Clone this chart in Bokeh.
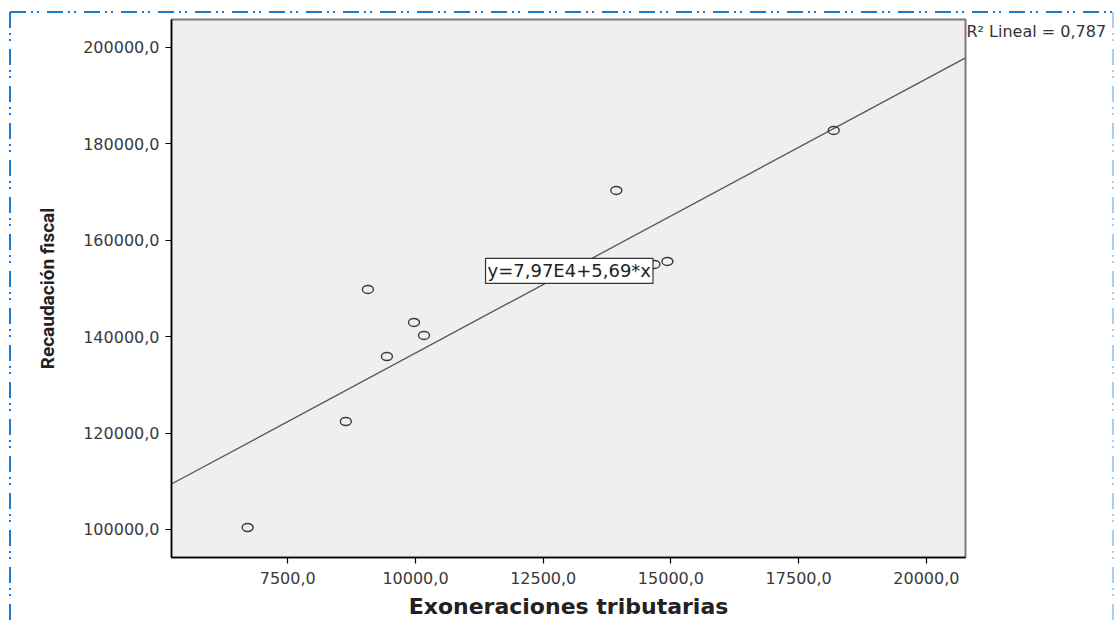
from bokeh.plotting import figure
from bokeh.models import Range1d, FixedTicker, Label, LinearAxis
from bokeh.embed import file_html
from bokeh.resources import INLINE

# Exoneraciones tributarias vs. Recaudación fiscal
exoneraciones = [6716, 8637, 9069, 9441, 9971, 10167, 13931, 14676, 14931, 18186]
recaudacion = [100415, 122407, 149793, 135892, 142946, 140249, 170332, 154979, 155602, 182780]

# fitted line reported on the chart: y = 7,97E4 + 5,69*x
intercepto = 79700.0
pendiente = 5.69
r2 = "0,787"

x_ticks = [7500, 10000, 12500, 15000, 17500, 20000]
x_tick_labels = ["7500,0", "10000,0", "12500,0", "15000,0", "17500,0", "20000,0"]
y_ticks = [100000, 120000, 140000, 160000, 180000, 200000]
y_tick_labels = ["100000,0", "120000,0", "140000,0", "160000,0", "180000,0", "200000,0"]

W, H = 1115, 624
x_lo, x_hi = 5225, 20765
y_lo, y_hi = 94190, 205800

p = figure(width=W, height=H, output_backend="svg", toolbar_location=None,
           x_range=Range1d(x_lo, x_hi), y_range=Range1d(y_lo, y_hi),
           min_border_left=171, min_border_right=150,
           min_border_top=19, min_border_bottom=67)

p.background_fill_color = "#efefef"
p.border_fill_alpha = 0
p.outline_line_color = "#7a7a7a"
p.outline_line_width = 2
p.xgrid.visible = False
p.ygrid.visible = False

# dash-dot-dot page border, painted behind the transparent canvas
blue = "#1a7ad0"
pale = "#a9cdf0"
def pattern(angle, c):
    return (f"repeating-linear-gradient({angle}, {c} 0 16px, transparent 16px 21px, "
            f"{c} 21px 23px, transparent 23px 27px, {c} 27px 29px, transparent 29px 37px)")
p.styles = {
    "background-color": "white",
    "background-image": ", ".join([pattern("90deg", blue), pattern("180deg", blue),
                                   pattern("180deg", pale)]),
    "background-size": "1104px 2px, 2px 620px, 2px 620px",
    "background-position": "10px 11px, 9px 12px, 1112px 12px",
    "background-repeat": "no-repeat",
}

tick_font = "DejaVu Sans"
for ax, ticks, labels in ((p.xaxis, x_ticks, x_tick_labels), (p.yaxis, y_ticks, y_tick_labels)):
    ax.ticker = FixedTicker(ticks=ticks)
    ax.major_label_overrides = {t: s for t, s in zip(ticks, labels)}
    ax.axis_line_color = "black"
    ax.axis_line_width = 1.5
    ax.major_tick_line_color = "black"
    ax.major_tick_line_width = 1.2
    ax.major_tick_out = 6
    ax.major_tick_in = 0
    ax.minor_tick_line_color = None
    ax.major_label_text_font = tick_font
    ax.major_label_text_font_size = "16px"
    ax.major_label_text_color = "#3a3a3a"

p.xaxis.axis_label = "Exoneraciones tributarias"
p.xaxis.axis_label_text_font = "DejaVu Sans"
p.xaxis.axis_label_text_font_style = "bold"
p.xaxis.axis_label_text_font_size = "22px"
p.xaxis.axis_label_text_color = "#222222"
p.xaxis.major_label_standoff = 8
p.xaxis.axis_label_standoff = 7

p.yaxis.axis_label = "Recaudación fiscal"
p.yaxis.axis_label_text_font = "Roboto"
p.yaxis.axis_label_text_font_style = "bold"
p.yaxis.axis_label_text_font_size = "19px"
p.yaxis.axis_label_text_color = "#222222"
p.yaxis.major_label_standoff = 6
p.yaxis.axis_label_standoff = 21

# R² note beside the top right corner of the frame
r2_pos = 203300
r2_axis = LinearAxis(ticker=FixedTicker(ticks=[r2_pos]),
                     major_label_overrides={r2_pos: "R² Lineal = " + r2},
                     axis_line_color=None, major_tick_line_color=None,
                     minor_tick_line_color=None, major_tick_out=0, major_tick_in=0,
                     major_label_standoff=1, major_label_text_font="DejaVu Sans",
                     major_label_text_font_size="16px", major_label_text_color="#333333")
p.add_layout(r2_axis, "right")

# regression line across the full x range
p.line([x_lo, x_hi], [intercepto + pendiente * x_lo, intercepto + pendiente * x_hi],
       line_color="#555555", line_width=1.3)

# observations as hollow markers
p.ellipse(exoneraciones, recaudacion, width=11, height=8,
          width_units="screen", height_units="screen",
          fill_color=None, line_color="#3a3a3a", line_width=1.4)

# equation box
p.add_layout(Label(x=13010, y=153631, text="y=7,97E4+5,69*x",
                   text_align="center", text_baseline="middle",
                   text_font="DejaVu Sans", text_font_size="18px", text_color="#222222",
                   background_fill_color="white", border_line_color="#333333",
                   border_line_width=1.2, padding=2))

open("out.html", "w").write(file_html(p, INLINE))
